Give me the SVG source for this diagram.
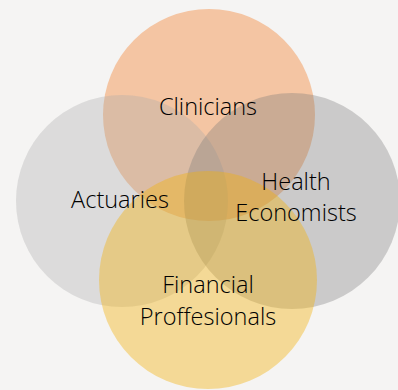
<svg xmlns="http://www.w3.org/2000/svg" width="398" height="390" viewBox="0 0 398 390">
<style>
.lbl{font-family:"Open Sans","Noto Sans","Liberation Sans",sans-serif;font-size:23.5px;font-weight:350;fill:#000000;text-anchor:middle}
</style>
<rect width="398" height="390" fill="#f5f4f3"/>
<g id="clinicians">
<circle cx="209" cy="115" r="106" fill="#f4c5a3"/>
</g>
<g id="actuaries">
<circle cx="122" cy="201" r="106" fill="#aaaaaa" fill-opacity="0.33"/>
</g>
<g id="health-economists">
<circle cx="292" cy="201" r="108" fill="#767676" fill-opacity="0.33"/>
</g>
<g id="financial-professionals">
<circle cx="208" cy="280" r="109" fill="#f2b10a" fill-opacity="0.4"/>
</g>
<g id="connectors"></g>
<g id="labels">
<text class="lbl" x="208" y="115">Clinicians</text>
<text class="lbl" x="120" y="208">Actuaries</text>
<text class="lbl" x="296" y="190">Health</text>
<text class="lbl" x="296" y="221">Economists</text>
<text class="lbl" x="208" y="293">Financial</text>
<text class="lbl" x="208" y="325">Proffesionals</text>
</g>
</svg>
